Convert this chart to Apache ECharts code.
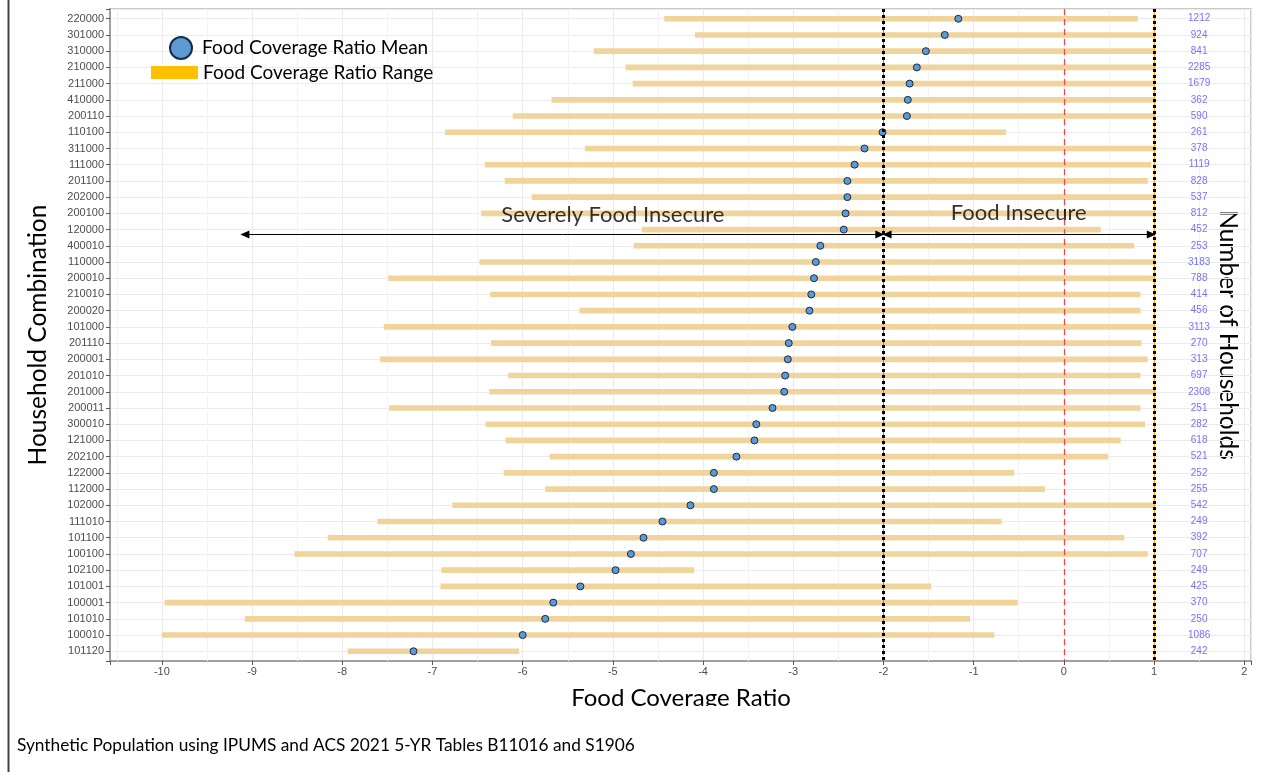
<!DOCTYPE html>
<html><head><meta charset="utf-8">
<script src="https://cdn.jsdelivr.net/npm/echarts@6/dist/echarts.min.js"></script>
<style>html,body{margin:0;padding:0;background:#fff}#c{width:1264px;height:772px}</style>
</head><body><div id="c"></div>
<script>
const categories = ['220000','301000','310000','210000','211000','410000','200110','110100','311000','111000',
  '201100','202000','200100','120000','400010','110000','200010','210010','200020','101000',
  '201110','200001','201010','201000','200011','300010','121000','202100','122000','112000',
  '102000','111010','101100','100100','102100','101001','100001','101010','100010','101120'];
const meanValues = [-1.17,-1.32,-1.53,-1.63,-1.71,-1.73,-1.74,-2.01,-2.21,-2.32,
  -2.40,-2.40,-2.42,-2.44,-2.70,-2.75,-2.77,-2.80,-2.82,-3.01,
  -3.05,-3.06,-3.09,-3.10,-3.23,-3.41,-3.43,-3.63,-3.88,-3.88,
  -4.14,-4.45,-4.66,-4.80,-4.97,-5.36,-5.66,-5.75,-6.00,-7.21];
const rangeLow = [-4.43,-4.09,-5.21,-4.86,-4.78,-5.68,-6.11,-6.86,-5.31,-6.42,
  -6.20,-5.90,-6.46,-4.68,-4.77,-6.48,-7.49,-6.36,-5.37,-7.54,
  -6.35,-7.58,-6.16,-6.37,-7.48,-6.41,-6.19,-5.70,-6.21,-5.75,
  -6.78,-7.61,-8.16,-8.53,-6.90,-6.91,-9.97,-9.08,-10.0,-7.94];
const rangeHigh = [0.82,1,1,1,1,1,1,-0.64,1,0.97,
  0.93,1,1,0.41,0.78,1,1,0.85,0.85,1,
  0.86,0.93,0.85,1,0.85,0.90,0.63,0.49,-0.55,-0.21,
  1,-0.69,0.67,0.93,-4.10,-1.47,-0.51,-1.04,-0.77,-6.04];
const householdCounts = [1212,924,841,2285,1679,362,590,261,378,1119,
  828,537,812,452,253,3183,788,414,456,3113,
  270,313,697,2308,251,282,618,521,252,255,
  542,249,392,707,249,425,370,250,1086,242];
const countLabelX = 1.5;
const minorTicks = [-10.5,-9.5,-8.5,-7.5,-6.5,-5.5,-4.5,-3.5,-2.5,-1.5,-0.5,0.5,1.5];
const severeLine = -2;
const zeroLine = 0;
const upperLine = 1;
const annotationText = ['Severely Food Insecure','Food Insecure'];
const annotationX = [-5.0, -0.5];
const annotationY = [12.1, 12.0];
const arrowFrom = [-9.08, -1.96];
const arrowTo = [-2.04, 0.97];
const arrowY = 13.3;

const isInt = v => Math.abs(v - Math.round(v)) < 1e-6;
const FONT = 'Lato';

const rangeData = categories.map((c, i) => [rangeLow[i], rangeHigh[i], i]);
const meanData = categories.map((c, i) => [meanValues[i], i]);
const countData = categories.map((c, i) => [countLabelX, i, householdCounts[i]]);
const annotData = annotationText.map((t, i) => [annotationX[i], annotationY[i], t]);

const chart = echarts.init(document.getElementById('c'));
chart.setOption({
  animation: false,
  backgroundColor: '#ffffff',
  grid: { left: 110, right: 13, top: 9, bottom: 111, show: true, borderColor: '#b8b8b8', borderWidth: 1.5 },
  xAxis: {
    type: 'value', min: -10.575, max: 2.075, splitNumber: 13,
    axisLine: { show: true, onZero: false, lineStyle: { color: '#a0a0a0', width: 2 } },
    axisTick: { show: true, length: 4, lineStyle: { color: '#555', width: 1 } },
    axisLabel: { margin: 5, color: '#4d4d4d', fontSize: 11, fontFamily: 'Liberation Sans',
      formatter: v => isInt(v) ? String(Math.round(v)) : '' },
    splitLine: { show: true, lineStyle: { color: '#ebebeb', width: 1 } }
  },
  yAxis: {
    type: 'value', inverse: true, min: -0.6, max: 39.6, splitNumber: 40,
    axisLine: { show: true, onZero: false, lineStyle: { color: '#a0a0a0', width: 2 } },
    axisTick: { show: true, length: 4, lineStyle: { color: '#555', width: 1 } },
    axisLabel: { margin: 6, color: '#4d4d4d', fontSize: 11, fontFamily: 'Liberation Sans',
      formatter: v => isInt(v) ? (categories[Math.round(v)] || '') : '' },
    splitLine: { show: true, lineStyle: { color: '#ebebeb', width: 1 } }
  },
  legend: [
    { data: [{ name: 'Food Coverage Ratio Mean', icon: 'circle' }], left: 169, top: 36, padding: 0,
      itemWidth: 32, itemHeight: 22, selectedMode: false,
      textStyle: { fontSize: 19, fontFamily: FONT, color: '#000' } },
    { data: [{ name: 'Food Coverage Ratio Range', icon: 'rect', itemStyle: { color: '#ffc000' } }], left: 151, top: 63, padding: 0,
      itemWidth: 47, itemHeight: 13, selectedMode: false,
      textStyle: { fontSize: 19, fontFamily: FONT, color: '#000' } }
  ],
  series: [
    { name: 'minorGrid', type: 'scatter', data: [], z: 1, silent: true,
      markLine: { z: 1, silent: true, symbol: ['none', 'none'], label: { show: false }, animation: false,
        lineStyle: { color: '#f3f3f3', width: 1, type: 'solid' },
        data: minorTicks.map(v => ({ xAxis: v })) } },
    { name: 'Food Coverage Ratio Range', type: 'custom', z: 2, data: rangeData,
      encode: { x: [0, 1], y: 2 },
      itemStyle: { color: '#f0d49b' },
      renderItem: (params, api) => {
        const p1 = api.coord([api.value(0), api.value(2)]);
        const p2 = api.coord([api.value(1), api.value(2)]);
        return { type: 'rect', shape: { x: p1[0], y: p1[1] - 2.8, width: p2[0] - p1[0], height: 5.6 },
          style: { fill: '#f0d49b' } };
      } },
    { name: 'Food Coverage Ratio Mean', type: 'scatter', z: 3, data: meanData, symbol: 'circle', symbolSize: 7,
      itemStyle: { color: '#5b9bd5', borderColor: '#1c2b45', borderWidth: 1, opacity: 1 } },
    { name: 'thresholds', type: 'scatter', data: [], z: 4, silent: true,
      markLine: { z: 4, silent: true, symbol: ['none', 'none'], label: { show: false }, animation: false,
        data: [
          { xAxis: severeLine, lineStyle: { color: '#ff5050', width: 1, type: [6, 4] } },
          { xAxis: zeroLine, lineStyle: { color: '#ff4040', width: 1.2, type: [6, 4] } },
          { xAxis: upperLine, lineStyle: { color: '#ffa500', width: 1.2, type: 'solid' } }
        ] } },
    { name: 'thresholdsBlack', type: 'scatter', data: [], z: 5, silent: true,
      markLine: { z: 5, silent: true, symbol: ['none', 'none'], label: { show: false }, animation: false,
        lineStyle: { color: '#000', width: 3, type: [3, 3] },
        data: [ { xAxis: severeLine }, { xAxis: upperLine } ] } },
    { name: 'arrows', type: 'scatter', data: [], z: 5, silent: true,
      markLine: { z: 6, silent: true, symbol: ['triangle', 'triangle'], symbolSize: [8, 9], label: { show: false }, animation: false,
        lineStyle: { color: '#000', width: 1, type: 'solid' },
        itemStyle: { color: '#000' },
        data: arrowFrom.map((f, i) => [{ coord: [f, arrowY] }, { coord: [arrowTo[i], arrowY] }]) } },
    { name: 'counts', type: 'scatter', z: 6, data: countData, symbolSize: 0, silent: true,
      label: { show: true, position: 'inside', formatter: p => String(p.value[2]),
        color: '#4f4fff', fontSize: 10, fontFamily: 'Liberation Sans' } },
    { name: 'annotations', type: 'scatter', z: 6, data: annotData, symbolSize: 0, silent: true,
      label: { show: true, position: 'inside', formatter: p => p.value[2],
        color: '#000', fontSize: 22, fontFamily: FONT } }
  ],
  graphic: [
    { type: 'line', shape: { x1: 8.5, y1: 0, x2: 8.5, y2: 772 }, style: { stroke: '#444', lineWidth: 2 } },
    { type: 'text', x: 38, y: 335, rotation: Math.PI / 2,
      style: { text: 'Household Combination', font: '24.5px Lato', fill: '#000',
        align: 'center', verticalAlign: 'middle', textAlign: 'center', textVerticalAlign: 'middle' } },
    { type: 'text', x: 1228, y: 335, rotation: -Math.PI / 2,
      style: { text: 'Number of Households', font: '24.5px Lato', fill: '#000',
        align: 'center', verticalAlign: 'middle', textAlign: 'center', textVerticalAlign: 'middle' } },
    { type: 'text', x: 681, y: 698,
      style: { text: 'Food Coverage Ratio', font: '24px Lato', fill: '#000',
        align: 'center', verticalAlign: 'middle', textAlign: 'center', textVerticalAlign: 'middle' } },
    { type: 'rect', shape: { x: 540, y: 706, width: 300, height: 12 }, style: { fill: '#fff' }, z: 100 },
    { type: 'text', x: 17, y: 745,
      style: { text: 'Synthetic Population using IPUMS and ACS 2021 5-YR Tables B11016 and S1906', font: '17.3px Lato', fill: '#000',
        align: 'left', verticalAlign: 'middle', textAlign: 'left', textVerticalAlign: 'middle' } }
  ]
});
</script></body></html>
